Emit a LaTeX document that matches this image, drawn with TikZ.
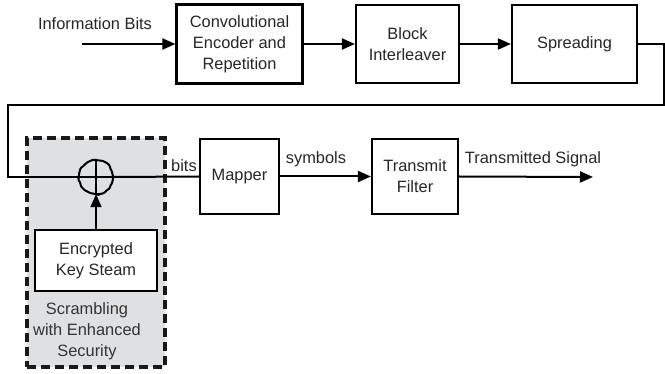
\documentclass[tikz,border=0pt]{standalone}
\usepackage{fontspec}
\setmainfont{Liberation Sans}
\usetikzlibrary{arrows.meta,decorations.pathmorphing}
\definecolor{shade}{HTML}{DFE0E2}
\begin{document}
\begin{tikzpicture}[x=1pt,y=-1pt,
  every node/.style={font=\fontsize{16.4}{21}\selectfont, text=black!85},
  blk/.style={draw=black, line width=2.2pt, fill=white, align=center, inner sep=0pt},
  wire/.style={line width=2pt, draw=black},
  arr/.style={wire, -{Triangle[length=13pt,width=11pt]}},
  lbl/.style={inner sep=0pt}]
\useasboundingbox (0,0) rectangle (665,374);
% shaded dashed region
\node[draw=black!90, fill=shade, line width=3.4pt, dash pattern=on 9pt off 5pt,
      minimum width=138pt, minimum height=229pt, inner sep=0pt] (scr) at (96,252.5) {};
% top row
\node[blk, minimum width=126pt, minimum height=79pt] (conv) at (239.5,44) {Convolutional\\Encoder and\\Repetition};
\node[blk, minimum width=103pt, minimum height=78pt] (inter) at (407.5,44) {Block\\Interleaver};
\node[blk, minimum width=125pt, minimum height=78pt] (spread) at (574.5,44) {Spreading};
\coordinate (in) at (82,44);
\node[lbl] (infobits) at (95,24) {Information Bits};
% second row
\node[blk, minimum width=79pt, minimum height=75pt] (mapper) at (239.5,176.5) {Mapper};
\node[blk, minimum width=86pt, minimum height=75pt] (tx) at (415,176.5) {Transmit\\Filter};
\node[blk, minimum width=122pt, minimum height=61pt] (enc) at (96,260.5) {Encrypted\\Key Steam};
\node[circle, minimum size=34pt, inner sep=0pt] (xor) at (96,177) {};
\node[lbl, align=center, text=black!80] (scrlbl) at (87,331) {Scrambling\\with Enhanced\\Security};
\coordinate (r1) at (664,44);
\coordinate (r2) at (664,105);
\coordinate (l1) at (8,105);
\coordinate (l2) at (8,177);
\coordinate (out) at (593,177);
\node[lbl] (bitslbl) at (184,166) {bits};
\node[lbl] (symlbl) at (316,159) {symbols};
\node[lbl] (tslbl) at (533,159) {Transmitted Signal};
% connectors
\draw[arr] (in) -- (conv.west);
\draw[arr] (conv.east) -- (inter.west);
\draw[arr] (inter.east) -- (spread.west);
\draw[wire] (spread.east) -- (r1) -- (r2) -- (l1) -- (l2) -- (xor.west);
\draw[wire] (xor.east) -- (mapper.west);
\draw[wire] (xor.west) -- (xor.east);
\draw[wire] (xor.north) -- (xor.south);
\draw[wire, decorate, decoration={random steps, segment length=3pt, amplitude=0.7pt}, rounded corners=1pt]
  (xor.center) ++(17pt,0) arc[start angle=0, end angle=-360, radius=17pt];
\draw[arr] (enc.north) -- (xor.south);
\draw[arr] (mapper.east) -- (tx.west);
\draw[arr] (tx.east) -- (out);
\end{tikzpicture}
\end{document}
